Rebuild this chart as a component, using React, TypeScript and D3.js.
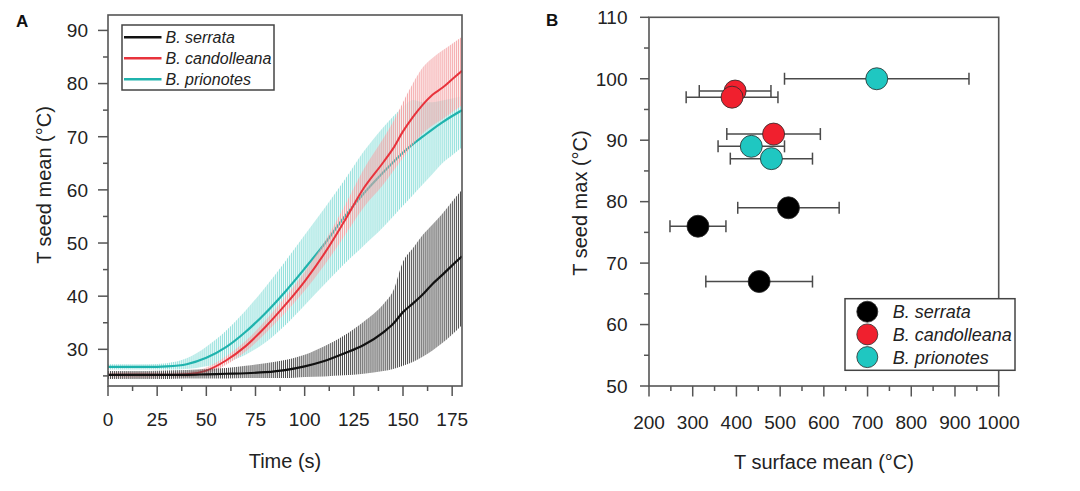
import React from 'react';
import * as d3 from 'd3';

// ---------- Panel A data (time series, °C) ----------
const time = [0, 10, 20, 30, 40, 50, 60, 70, 80, 90, 100, 110, 120, 130, 140, 145, 150, 155, 160, 165, 170, 175, 180];

const serrataMean = [25.2, 25.2, 25.2, 25.2, 25.2, 25.3, 25.4, 25.5, 25.7, 26.1, 26.8, 27.8, 29.2, 30.8, 33.2, 34.8, 37.0, 38.6, 40.3, 42.3, 44.0, 45.8, 47.5];
const serrataUpper = [25.9, 25.9, 25.9, 26.0, 26.1, 26.3, 26.5, 26.9, 27.4, 28.0, 29.0, 30.6, 32.6, 35.2, 38.5, 41.0, 46.5, 49.0, 51.5, 53.5, 55.5, 57.8, 60.0];
const serrataLower = [24.4, 24.4, 24.4, 24.4, 24.5, 24.5, 24.5, 24.6, 24.6, 24.6, 24.8, 24.9, 25.1, 25.4, 25.9, 26.3, 26.9, 27.6, 28.6, 29.8, 31.2, 32.8, 34.6];

const candolleanaMean = [25.2, 25.2, 25.2, 25.2, 25.3, 26.0, 27.9, 30.6, 34.2, 38.3, 42.8, 48.0, 54.0, 60.3, 65.2, 67.8, 71.0, 73.7, 76.0, 77.9, 79.2, 80.8, 82.4];
const candolleanaUpper = [25.7, 25.7, 25.7, 25.7, 25.8, 26.6, 28.7, 31.6, 35.4, 39.8, 44.6, 50.2, 56.8, 63.9, 69.7, 72.8, 76.5, 80.0, 83.0, 84.8, 86.2, 87.5, 88.8];
const candolleanaLower = [24.7, 24.7, 24.7, 24.7, 24.8, 25.4, 27.1, 29.6, 33.0, 36.8, 41.0, 45.8, 51.2, 56.7, 61.0, 63.5, 66.0, 68.5, 70.6, 72.1, 73.3, 74.6, 75.9];

const prionotesMean = [26.7, 26.7, 26.7, 26.8, 27.2, 28.4, 30.4, 33.3, 36.8, 40.8, 45.2, 49.8, 54.8, 59.3, 63.3, 65.2, 67.0, 68.6, 70.0, 71.4, 72.7, 73.9, 75.0];
const prionotesUpper = [27.2, 27.2, 27.2, 27.4, 28.3, 30.5, 33.5, 37.3, 41.7, 46.5, 51.5, 56.5, 61.7, 67.2, 71.8, 73.8, 75.6, 76.9, 76.5, 76.5, 76.8, 77.2, 77.6];
const prionotesLower = [26.2, 26.2, 26.2, 26.2, 26.3, 26.8, 27.6, 29.0, 31.3, 34.5, 38.3, 42.2, 46.0, 49.5, 53.0, 55.0, 57.0, 59.0, 61.0, 63.0, 65.0, 66.5, 68.0];

const xTicksA = [0, 25, 50, 75, 100, 125, 150, 175];
const xMinorA = [12.5, 37.5, 62.5, 87.5, 112.5, 137.5, 162.5];
const yTicksA = [30, 40, 50, 60, 70, 80, 90];
const yMinorA = [25, 35, 45, 55, 65, 75, 85];

// ---------- Panel B data ----------
const serrataSurface = [312, 519, 452];
const serrataMax = [76, 79, 67];
const serrataErr = [64, 116, 122];

const candolleanaSurface = [397, 390, 485];
const candolleanaMax = [98, 97, 91];
const candolleanaErr = [82, 105, 107];

const prionotesSurface = [721, 434, 480];
const prionotesMax = [100, 89, 87];
const prionotesErr = [211, 76, 94];

const xTicksB = [200, 300, 400, 500, 600, 700, 800, 900, 1000];
const xMinorB = [250, 350, 450, 550, 650, 750, 850, 950];
const yTicksB = [50, 60, 70, 80, 90, 100, 110];
const yMinorB = [55, 65, 75, 85, 95, 105];

const species = ['B. serrata', 'B. candolleana', 'B. prionotes'];

// ---------- styles ----------
const FONT = '"Liberation Sans", Arial, Helvetica, sans-serif';
const TXT = '#222';
const AXC = '#555';
const lineColors = ['#111111', '#e8333c', '#1fb3ad'];
const dotColors = ['#000000', '#f0202e', '#1fc7c1'];

const A = { left: 108, right: 462, top: 15, bottom: 386 };
const B = { left: 649, right: 998.7, top: 17.3, bottom: 386 };

export default function App() {
  const xA = d3.scaleLinear().domain([0, 180]).range([A.left, A.right]);
  const yA = d3.scaleLinear().domain([23.1, 92.9]).range([A.bottom, A.top]);
  const xB = d3.scaleLinear().domain([200, 1000]).range([B.left, B.right]);
  const yB = d3.scaleLinear().domain([50, 110]).range([B.bottom, B.top]);

  const mkLine = (vals: number[]) =>
    d3.line<number>().x((_, i) => xA(time[i])).y((d) => yA(d)).curve(d3.curveMonotoneX)(vals) || '';
  const mkArea = (lo: number[], hi: number[]) =>
    d3
      .area<number>()
      .x((_, i) => xA(time[i]))
      .y0((d) => yA(d))
      .y1((_, i) => yA(hi[i]))
      .curve(d3.curveMonotoneX)(lo) || '';

  const step = xA(1) - xA(0);

  const series = [
    { mean: serrataMean, lo: serrataLower, hi: serrataUpper },
    { mean: candolleanaMean, lo: candolleanaLower, hi: candolleanaUpper },
    { mean: prionotesMean, lo: prionotesLower, hi: prionotesUpper },
  ];

  const pts = [
    { x: serrataSurface, y: serrataMax, e: serrataErr },
    { x: candolleanaSurface, y: candolleanaMax, e: candolleanaErr },
    { x: prionotesSurface, y: prionotesMax, e: prionotesErr },
  ];

  return (
    <svg
      width={1080}
      height={491}
      viewBox="0 0 1080 491"
      style={{ position: 'absolute', left: 0, top: 0, background: '#fff' }}
      fontFamily={FONT}
    >
      <defs>
        <clipPath id="clipA">
          <rect x={A.left} y={A.top} width={A.right - A.left} height={A.bottom - A.top} />
        </clipPath>
        <pattern id="patK" patternUnits="userSpaceOnUse" x={A.left} y={0} width={step} height={10}>
          <rect x={0} y={0} width={1.0} height={10} fill="#4a4a4a" />
        </pattern>
        <pattern id="patR" patternUnits="userSpaceOnUse" x={A.left} y={0} width={step} height={10}>
          <rect x={0} y={0} width={1.1} height={10} fill="#f4a8aa" />
        </pattern>
        <pattern id="patC" patternUnits="userSpaceOnUse" x={A.left} y={0} width={step} height={10}>
          <rect x={0} y={0} width={1.1} height={10} fill="#93e0dc" />
        </pattern>
      </defs>
      <rect x={0} y={0} width={1080} height={491} fill="#fff" />

      {/* ================= Panel A ================= */}
      <g clipPath="url(#clipA)">
        <path d={mkArea(series[2].lo, series[2].hi)} fill="url(#patC)" />
        <path d={mkLine(series[2].mean)} fill="none" stroke={lineColors[2]} strokeWidth={2.2} />
        <path d={mkArea(series[1].lo, series[1].hi)} fill="url(#patR)" />
        <path d={mkLine(series[1].mean)} fill="none" stroke={lineColors[1]} strokeWidth={2} />
        <path d={mkArea(series[0].lo, series[0].hi)} fill="url(#patK)" />
        <path d={mkLine(series[0].mean)} fill="none" stroke={lineColors[0]} strokeWidth={2.2} />
      </g>

      {/* frame A */}
      <rect x={A.left} y={A.top} width={A.right - A.left} height={A.bottom - A.top} fill="none" stroke={AXC} strokeWidth={1.6} />
      {/* y ticks A */}
      {yTicksA.map((v) => (
        <g key={'ya' + v}>
          <line x1={A.left - 10} x2={A.left} y1={yA(v)} y2={yA(v)} stroke={AXC} strokeWidth={1.5} />
          <text x={A.left - 20} y={yA(v)} dy="0.36em" textAnchor="end" fontSize={19} fill={TXT}>
            {v}
          </text>
        </g>
      ))}
      {yMinorA.map((v) => (
        <line key={'yam' + v} x1={A.left - 5} x2={A.left} y1={yA(v)} y2={yA(v)} stroke={AXC} strokeWidth={1.5} />
      ))}
      {xTicksA.map((v) => (
        <g key={'xa' + v}>
          <line x1={xA(v)} x2={xA(v)} y1={A.bottom} y2={A.bottom + 10} stroke={AXC} strokeWidth={1.5} />
          <text x={xA(v)} y={419} dy="0.36em" textAnchor="middle" fontSize={19} fill={TXT}>
            {v}
          </text>
        </g>
      ))}
      {xMinorA.map((v) => (
        <line key={'xam' + v} x1={xA(v)} x2={xA(v)} y1={A.bottom} y2={A.bottom + 5} stroke={AXC} strokeWidth={1.5} />
      ))}
      <text x={285} y={461} dy="0.36em" textAnchor="middle" fontSize={20} fill={TXT}>
        Time (s)
      </text>
      <text
        transform={`translate(44,185) rotate(-90)`}
        dy="0.36em"
        textAnchor="middle"
        fontSize={20}
        fill={TXT}
      >
        T seed mean (°C)
      </text>
      <text x={16} y={27} fontSize={17} fontWeight="bold" fill="#111">
        A
      </text>

      {/* legend A */}
      <rect x={122} y={25} width={152} height={65} fill="#fff" stroke="#444" strokeWidth={1.5} />
      {species.map((s, i) => (
        <g key={'la' + s}>
          <line x1={124} x2={161.5} y1={37.3 + i * 21} y2={37.3 + i * 21} stroke={lineColors[i]} strokeWidth={2.4} />
          <text x={165.5} y={37.3 + i * 21} dy="0.36em" fontSize={16} fontStyle="italic" fill={TXT}>
            {s}
          </text>
        </g>
      ))}

      {/* ================= Panel B ================= */}
      <rect x={B.left} y={B.top} width={B.right - B.left} height={B.bottom - B.top} fill="none" stroke={AXC} strokeWidth={1.6} />
      {yTicksB.map((v) => (
        <g key={'yb' + v}>
          <line x1={B.left - 9} x2={B.left} y1={yB(v)} y2={yB(v)} stroke={AXC} strokeWidth={1.5} />
          <text x={627.5} y={yB(v)} dy="0.36em" textAnchor="end" fontSize={19} fill={TXT}>
            {v}
          </text>
        </g>
      ))}
      {yMinorB.map((v) => (
        <line key={'ybm' + v} x1={B.left - 5} x2={B.left} y1={yB(v)} y2={yB(v)} stroke={AXC} strokeWidth={1.5} />
      ))}
      {xTicksB.map((v) => (
        <g key={'xb' + v}>
          <line x1={xB(v)} x2={xB(v)} y1={B.bottom} y2={B.bottom + 10.5} stroke={AXC} strokeWidth={1.5} />
          <text x={xB(v)} y={422.5} dy="0.36em" textAnchor="middle" fontSize={19} fill={TXT}>
            {v}
          </text>
        </g>
      ))}
      {xMinorB.map((v) => (
        <line key={'xbm' + v} x1={xB(v)} x2={xB(v)} y1={B.bottom} y2={B.bottom + 5} stroke={AXC} strokeWidth={1.5} />
      ))}
      <text x={824} y={462} dy="0.36em" textAnchor="middle" fontSize={20} fill={TXT}>
        T surface mean (°C)
      </text>
      <text
        transform={`translate(580,203) rotate(-90)`}
        dy="0.36em"
        textAnchor="middle"
        fontSize={20}
        fill={TXT}
      >
        T seed max (°C)
      </text>
      <text x={546} y={26} fontSize={17} fontWeight="bold" fill="#111">
        B
      </text>

      {/* error bars */}
      {pts.map((p, si) =>
        p.x.map((xv, j) => {
          const y = yB(p.y[j]);
          const x0 = xB(xv - p.e[j]);
          const x1 = xB(xv + p.e[j]);
          return (
            <g key={'eb' + si + '-' + j} stroke="#4a4a4a" strokeWidth={1.5}>
              <line x1={x0} x2={x1} y1={y} y2={y} />
              <line x1={x0} x2={x0} y1={y - 6} y2={y + 6} />
              <line x1={x1} x2={x1} y1={y - 6} y2={y + 6} />
            </g>
          );
        })
      )}
      {/* points */}
      {pts.map((p, si) =>
        p.x.map((xv, j) => (
          <circle
            key={'pt' + si + '-' + j}
            cx={xB(xv)}
            cy={yB(p.y[j])}
            r={11}
            fill={dotColors[si]}
            stroke="#2a2a2a"
            strokeWidth={0.8}
          />
        ))
      )}

      {/* legend B */}
      <rect x={845} y={298.7} width={170} height={71.6} fill="#fff" stroke="#444" strokeWidth={1.5} />
      {species.map((s, i) => (
        <g key={'lb' + s}>
          <circle cx={867.3} cy={311.7 + i * 22.7} r={10.5} fill={dotColors[i]} stroke="#2a2a2a" strokeWidth={0.8} />
          <text x={892.7} y={311.7 + i * 22.7} dy="0.36em" fontSize={18} fontStyle="italic" fill={TXT}>
            {s}
          </text>
        </g>
      ))}
    </svg>
  );
}
